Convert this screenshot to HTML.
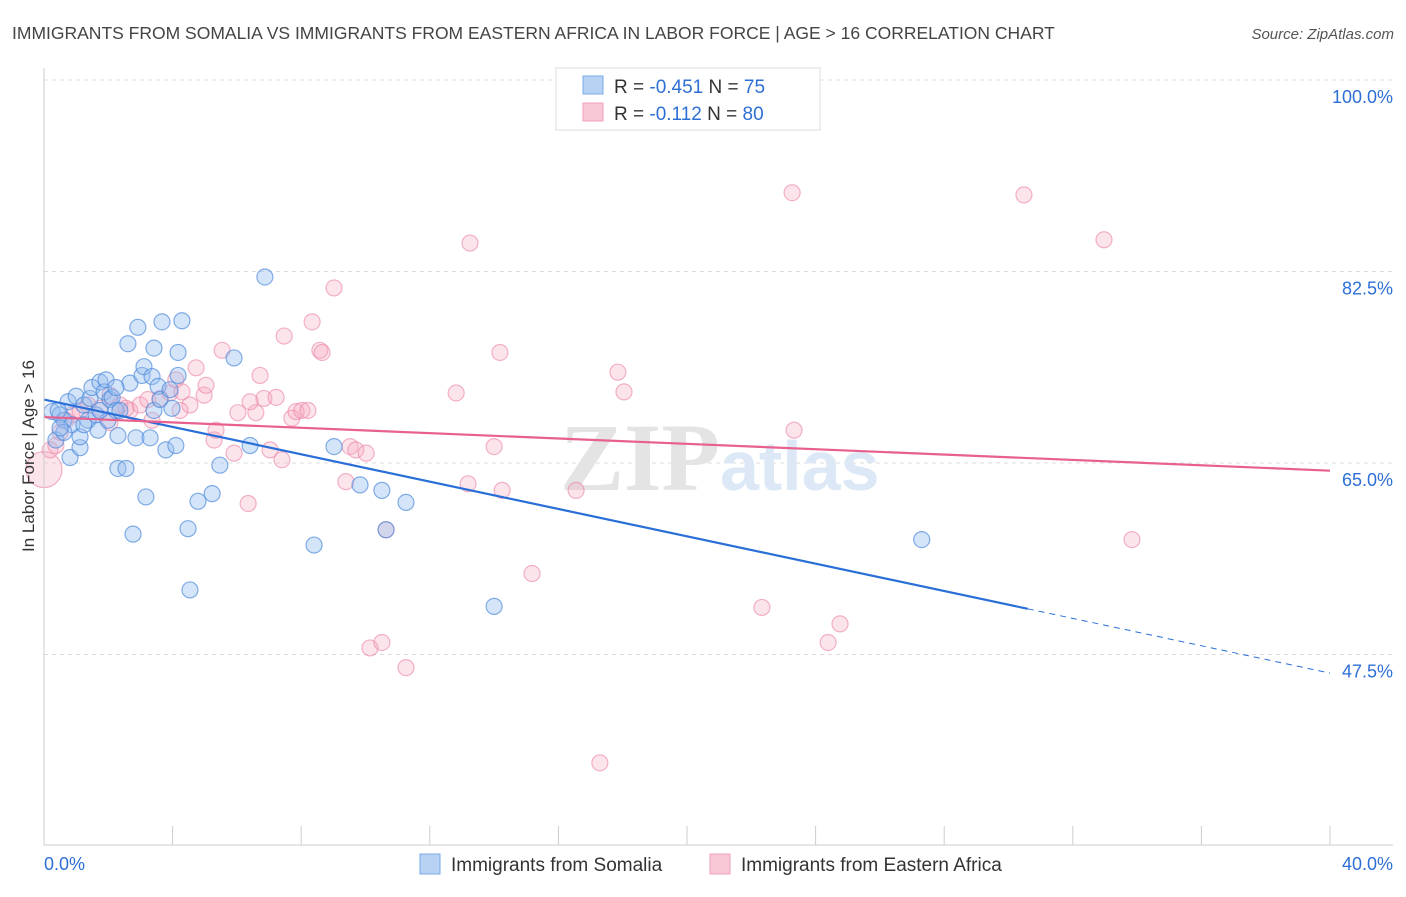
<!DOCTYPE html>
<html><head><meta charset="utf-8"><style>
body{margin:0;background:#fff;font-family:"Liberation Sans",sans-serif}
</style></head><body>
<svg width="1406" height="892" xmlns="http://www.w3.org/2000/svg" style="font-family:'Liberation Sans',sans-serif">
<text x="12" y="39" font-size="17.5" fill="#444">IMMIGRANTS FROM SOMALIA VS IMMIGRANTS FROM EASTERN AFRICA IN LABOR FORCE | AGE &gt; 16 CORRELATION CHART</text>
<text x="1394" y="39" font-size="15" fill="#555" font-style="italic" text-anchor="end">Source: ZipAtlas.com</text>
<g id="grid"></g>
<text x="720" y="490" font-size="96" fill="#e4e4e4" text-anchor="end" font-family="Liberation Serif" font-weight="bold">ZIP</text>
<text x="720" y="490" font-size="70" fill="#dce8f6" font-weight="bold">atlas</text>
<g id="pts"></g>
<g id="axes"></g>
<text transform="translate(34,456) rotate(-90)" font-size="17" fill="#333" text-anchor="middle">In Labor Force | Age &gt; 16</text>
<g>
<rect x="556" y="68" width="264" height="62" fill="#fff" stroke="#ddd"/>
<rect x="583" y="76" width="20" height="18" fill="#b8d2f4" stroke="#7aaae8"/>
<rect x="583" y="103" width="20" height="18" fill="#f9c8d6" stroke="#f0a0b8"/>
<text x="614" y="93" font-size="19" fill="#333">R = <tspan fill="#2e6fd6">-0.451</tspan>   N = <tspan fill="#2e6fd6">75</tspan></text>
<text x="614" y="120" font-size="19" fill="#333">R =  <tspan fill="#2e6fd6">-0.112</tspan>   N = <tspan fill="#2e6fd6">80</tspan></text>
</g>
<g>
<rect x="420" y="854" width="20" height="20" fill="#b8d2f4" stroke="#7aaae8"/>
<text x="451" y="871" font-size="19" fill="#333">Immigrants from Somalia</text>
<rect x="710" y="854" width="20" height="20" fill="#f9c8d6" stroke="#f0a0b8"/>
<text x="741" y="871" font-size="19" fill="#333">Immigrants from Eastern Africa</text>
</g>
</svg>
<script>
const yTicks=[100,82.5,65,47.5];
const yTickLabels=["100.0%","82.5%","65.0%","47.5%"];
const xTicks=[0,4,8,12,16,20,24,28,32,36,40];
const blueX=[0.25,0.37,0.5,0.62,0.75,0.81,0.87,1.0,1.12,1.12,1.24,1.37,1.43,1.49,1.62,1.68,1.74,1.87,1.93,1.99,2.05,2.12,2.24,2.3,2.3,2.55,2.61,2.67,2.86,2.92,3.05,3.11,3.17,3.3,3.36,3.42,3.42,3.55,3.61,3.67,3.79,3.92,3.98,4.1,4.17,4.17,4.29,4.48,4.54,4.79,5.23,5.47,5.91,6.41,6.87,8.4,9.02,9.83,10.51,10.64,11.26,14.0,27.3,2.77,2.24,0.62,1.74,1.24,2.36,0.44,0.5];
const blueY=[69.7,67.1,69.4,68.9,70.6,65.5,68.5,71.1,66.4,67.4,70.3,68.9,70.9,71.9,69.4,68.0,72.4,71.5,72.6,68.9,70.8,71.0,69.8,67.5,64.5,64.5,75.9,72.3,67.3,77.4,73.0,73.8,61.9,67.3,72.9,75.5,69.8,72.0,70.8,77.9,66.2,71.7,70.0,66.6,73.0,75.1,78.0,59.0,53.4,61.5,62.2,64.8,74.6,66.6,82.0,57.5,66.5,63.0,62.5,58.9,61.4,51.9,58.0,58.5,71.9,67.8,69.8,68.5,69.8,69.8,68.2];
const pinkX=[0,0.19,0.37,0.5,0.68,0.87,1.12,1.37,1.74,2.05,2.36,2.67,2.99,3.23,3.36,3.61,3.92,4.1,4.29,4.54,4.73,4.98,5.04,5.29,5.35,5.54,5.91,6.03,6.35,6.59,6.72,6.84,7.03,7.22,7.4,7.47,7.71,7.84,8.02,8.21,8.34,8.58,8.65,9.02,9.39,9.52,9.7,10.02,10.14,10.51,10.64,11.26,12.82,13.19,13.25,14.0,14.18,14.25,15.18,16.55,17.29,17.85,18.04,22.33,23.27,23.33,24.39,24.76,30.48,32.97,33.84,2.05,2.55,4.23,6.41];
const pinkY=[64.4,66.2,66.6,67.8,68.9,69.4,69.8,70.3,70.0,71.2,70.3,69.8,70.3,70.8,68.9,70.9,71.4,72.6,71.5,70.3,73.7,71.2,72.1,67.1,68.0,75.3,65.9,69.6,61.3,69.6,73.0,70.9,66.2,71.0,65.3,76.6,69.1,69.7,69.8,69.8,77.9,75.3,75.1,81.0,63.3,66.5,66.2,65.9,48.1,48.6,58.9,46.3,71.4,63.1,85.1,66.5,75.1,62.5,54.9,62.5,37.6,73.3,71.5,51.8,89.7,68.0,48.6,50.3,89.5,85.4,58.0,68.7,70.0,69.8,70.6];
const blueTrend=[70.8,45.8];
const pinkTrend=[69.2,64.3];
const NS="http://www.w3.org/2000/svg";
const X=v=>44+v*(1286/40);
const Y=v=>80+(100-v)*10.943;
function mk(tag,attrs,parent){const e=document.createElementNS(NS,tag);for(const k in attrs)e.setAttribute(k,attrs[k]);parent.appendChild(e);return e;}
const grid=document.getElementById('grid'),axes=document.getElementById('axes'),pts=document.getElementById('pts');
yTicks.forEach((t,i)=>{
 const l=mk('line',{x1:44,x2:1393,y1:Y(t),y2:Y(t),stroke:'#dcdcdc','stroke-dasharray':'4,4'},grid);
 
 
 const tx=mk('text',{x:1393,y:Y(t)+23,'font-size':18,fill:'#2e6fd6','text-anchor':'end'},axes);
 tx.textContent=yTickLabels[i];
 
 
});
mk('line',{x1:44,x2:44,y1:68,y2:845,stroke:'#ccc'},axes);
mk('line',{x1:44,x2:1393,y1:845,y2:845,stroke:'#ccc'},axes);
xTicks.forEach(t=>{
 const l=mk('line',{x1:X(t),x2:X(t),y1:826,y2:845,stroke:'#ccc'},axes);
 
 
});
const x0=mk('text',{x:44,y:870,'font-size':18,fill:'#2e6fd6'},axes);x0.textContent='0.0%';


const x1=mk('text',{x:1393,y:870,'font-size':18,fill:'#2e6fd6','text-anchor':'end'},axes);x1.textContent='40.0%';


pinkX.forEach((v,i)=>{
 const c=mk('circle',{cx:X(v),cy:Y(pinkY[i]),r:i===0?18:8,fill:'rgba(245,165,190,0.3)',stroke:'rgba(235,130,165,0.6)','stroke-width':1.2},pts);
 
 
});
blueX.forEach((v,i)=>{
 const c=mk('circle',{cx:X(v),cy:Y(blueY[i]),r:8,fill:'rgba(150,190,240,0.4)',stroke:'rgba(80,140,220,0.7)','stroke-width':1.2},pts);
 
 
});
const bAt=x=>blueTrend[0]+(blueTrend[1]-blueTrend[0])*x/40;
const bl=mk('line',{x1:X(0),y1:Y(bAt(0)),x2:X(30.6),y2:Y(bAt(30.6)),stroke:'#2a6fd8','stroke-width':2.2},pts);


const bd=mk('line',{x1:X(30.6),y1:Y(bAt(30.6)),x2:X(40),y2:Y(bAt(40)),stroke:'#2a6fd8','stroke-width':1,'stroke-dasharray':'6,5'},pts);


const pl=mk('line',{x1:X(0),y1:Y(pinkTrend[0]),x2:X(40),y2:Y(pinkTrend[1]),stroke:'#e8608e','stroke-width':2.2},pts);


</script>
</body></html>
